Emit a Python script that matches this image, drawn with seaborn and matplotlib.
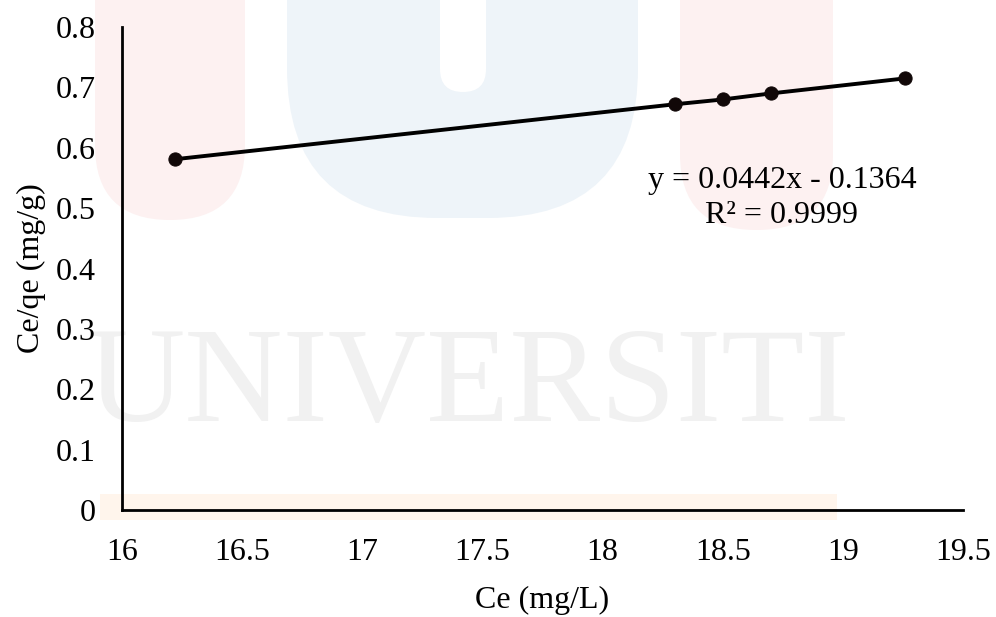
# Ce/qe vs Ce – Langmuir linear plot
import numpy as np
import pandas as pd
import seaborn as sns
import matplotlib.pyplot as plt
from matplotlib.patches import FancyBboxPatch

# Dados
ce = [16.22, 18.30, 18.50, 18.70, 19.26]
ce_qe = [0.581, 0.672, 0.680, 0.690, 0.715]
equation = "y = 0.0442x - 0.1364"
r2_text = "R² = 0.9999"
x_ticks = [16, 16.5, 17, 17.5, 18, 18.5, 19, 19.5]
y_ticks = [0, 0.1, 0.2, 0.3, 0.4, 0.5, 0.6, 0.7, 0.8]

df = pd.DataFrame({'Ce': ce, 'Ce/qe': ce_qe})

sns.set_style('white')
plt.rcParams['font.family'] = ['Liberation Serif', 'DejaVu Serif']
plt.rcParams['text.color'] = 'black'
plt.rcParams['axes.labelcolor'] = 'black'

fs = 23

fig = plt.figure(figsize=(9.96, 6.17), dpi=100)

# marca d'água (fundo, bem clara)
wm = fig.add_axes([0, 0, 1, 1], zorder=0)
wm.set_axis_off()
wm.set_xlim(0, 996)
wm.set_ylim(617, 0)

def pill(x0, x1, y1, r, fc):
    wm.add_patch(FancyBboxPatch((x0, -200), x1 - x0, y1 + 200,
                                boxstyle=f"round,pad=0,rounding_size={r}", fc=fc, ec='none'))

pill(95, 245, 220, 75, '#fdf1f1')
pill(287, 638, 218, 150, '#eef4f9')
pill(440, 486, 92, 23, 'white')
pill(680, 833, 230, 76, '#fdf1f1')
wm.add_patch(FancyBboxPatch((100, 494), 737, 26, boxstyle="square,pad=0",
                            fc='#fff5ec', ec='none'))
wm.text(468, 388, "UNIVERSITI", fontsize=98, color='#f1f1f1', ha='center', va='center')

ax = fig.add_axes([0.1225, 0.1734, 0.8444, 0.7828], zorder=1)
ax.patch.set_alpha(0)

sns.lineplot(data=df, x='Ce', y='Ce/qe', ax=ax, color='black', linewidth=2.8,
             marker='o', markersize=9.5, markeredgecolor='#110808', markerfacecolor='#110808')

ax.set_xlim(16, 19.5)
ax.set_ylim(0, 0.8)
ax.set_xticks(x_ticks)
ax.set_yticks(y_ticks)
ax.set_xticklabels([f"{v:g}" for v in x_ticks])
ax.set_yticklabels([f"{v:g}" for v in y_ticks])

sns.despine(ax=ax)
for s in ['left', 'bottom']:
    ax.spines[s].set_linewidth(2)
    ax.spines[s].set_color('black')
ax.tick_params(axis='both', direction='out', length=9, width=1.6, colors='black',
               labelsize=fs)
ax.tick_params(axis='x', pad=11)
ax.tick_params(axis='y', pad=10)

ax.set_xlabel('Ce (mg/L)', fontsize=fs, labelpad=14)
ax.set_ylabel('Ce/qe (mg/g)', fontsize=fs, labelpad=7)

ax.text(18.746, 0.5466, equation, fontsize=fs, ha='center', va='center')
ax.text(18.746, 0.4886, r2_text, fontsize=fs, ha='center', va='center')

fig.savefig('out.png', dpi=100)
